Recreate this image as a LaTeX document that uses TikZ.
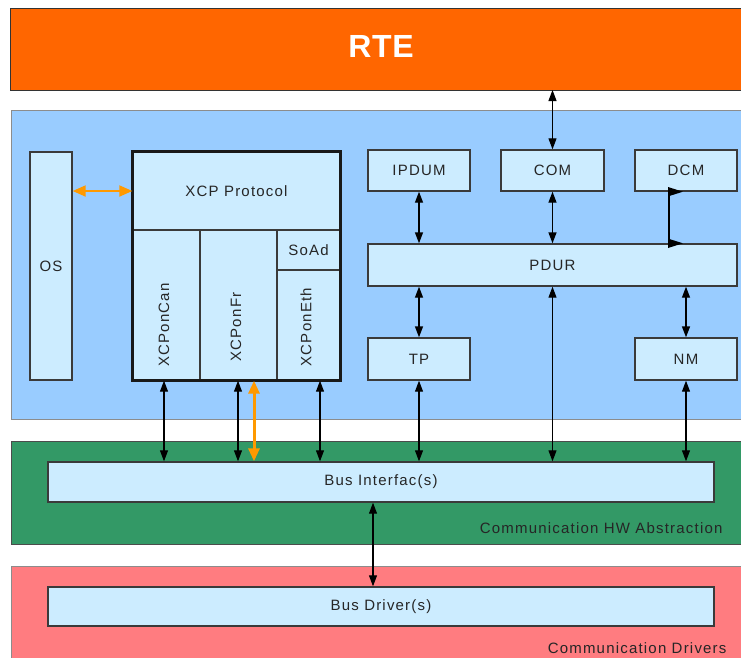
\documentclass[tikz,border=0pt]{standalone}
\usepackage{fontspec}
\setmainfont{Liberation Sans}[LetterSpace=8]
\newfontfamily\rtefont{Liberation Sans}[LetterSpace=2]
\usetikzlibrary{arrows.meta}
\definecolor{rteor}{HTML}{FF6600}
\definecolor{bluebg}{HTML}{99CCFF}
\definecolor{boxfill}{HTML}{CCECFF}
\definecolor{greenbg}{HTML}{339966}
\definecolor{redbg}{HTML}{FF7C80}
\definecolor{orarr}{HTML}{FF9900}
\definecolor{edge}{HTML}{3A3A3A}
\tikzset{
  every node/.style={font=\fontsize{15}{18}\selectfont, text=black!85},
  box/.style={draw=edge, line width=1.4pt, fill=boxfill, rectangle, inner sep=0pt},
  region/.style={draw=black!45, line width=1pt},
  arr/.style={line width=1.1pt, {Triangle[length=11pt,width=8pt]}-{Triangle[length=11pt,width=8pt]}},
  oarr/.style={draw=orarr, line width=2pt, {Triangle[length=13pt,width=11pt]}-{Triangle[length=13pt,width=11pt]}},
  vtext/.style={rotate=90, inner sep=0pt}
}
\begin{document}
\begin{tikzpicture}[x=1pt,y=-1pt]
\useasboundingbox (0,0) rectangle (741,657);
\clip (0,0) rectangle (741,657);
\fill[white] (0,0) rectangle (741,657);
% regions
\draw[region, draw=black!80, fill=rteor] (10,8) rectangle (760,90);
\coordinate (rtebot) at (383,90);
\node[font=\rtefont\fontsize{32}{36}\bfseries\selectfont, text=white] (rte) at (381,46) {RTE};
\draw[region, fill=bluebg] (11,110) rectangle (760,419);
\draw[region, draw=black!70, fill=greenbg] (11,441) rectangle (760,544);
\draw[region, fill=redbg] (11,566) rectangle (760,690);
\node[anchor=base east] (lblhw) at (726,533) {Communication HW Abstraction};
\node[anchor=base east] (lbldrv) at (730,653) {Communication Drivers};
% OS
\node[box, minimum width=42, minimum height=228] (os) at (51,266) {OS};
% XCP block
\node[box, minimum width=207, minimum height=78] (xcpp) at (236.5,191) {XCP Protocol};
\node[box, minimum width=67, minimum height=150] (xcan) at (166.5,305) {};
\node[box, minimum width=77, minimum height=150] (xfr) at (238.5,305) {};
\node[box, minimum width=63, minimum height=40] (soad) at (308.5,250) {SoAd};
\node[box, minimum width=63, minimum height=110] (xeth) at (308.5,325) {};
\node[vtext] (tcan) at (164,325) {XCPonCan};
\node[vtext] (tfr) at (236,327) {XCPonFr};
\node[vtext] (teth) at (306,327) {XCPonEth};
\draw[draw=black!90, line width=2.6pt] (xcpp.north west) rectangle (xeth.south east);
% right modules
\node[box, minimum width=102, minimum height=41] (ipdum) at (419,170.5) {IPDUM};
\node[box, minimum width=103, minimum height=41] (com) at (552.5,170.5) {COM};
\node[box, minimum width=102, minimum height=41] (dcm) at (686,170.5) {DCM};
\node[box, minimum width=369, minimum height=42] (pdur) at (552.5,265) {PDUR};
\node[box, minimum width=102, minimum height=42] (tp) at (419,359) {TP};
\node[box, minimum width=102, minimum height=42] (nm) at (686,359) {NM};
% bus boxes
\node[box, minimum width=666, minimum height=40] (busif) at (381,482) {Bus Interfac(s)};
\node[box, minimum width=666, minimum height=39] (busdrv) at (381,606.5) {Bus Driver(s)};
% connector anchors
\coordinate (pcan) at ([xshift=-2.5pt]xcan.south);
\coordinate (pfr) at ([xshift=-0.5pt]xfr.south);
\coordinate (por) at ([xshift=15.5pt]xfr.south);
\coordinate (peth) at ([xshift=11.5pt]xeth.south);
\coordinate (pbus) at ([xshift=-8pt]busif.south);
\coordinate (dcmtop) at ([xshift=-17pt]dcm.south);
% connectors
\draw[arr] (com.north) -- (rtebot -| com.north);
\draw[oarr] (os.east |- xcpp.west) -- (xcpp.west);
\draw[arr, line width=1.4pt] (ipdum.south) -- (pdur.north -| ipdum.south);
\draw[arr, line width=1.4pt] (com.south) -- (pdur.north -| com.south);
\draw[line width=1.4pt, {Triangle[length=15pt,width=9pt]}-{Triangle[length=15pt,width=9pt]}]
  ([xshift=14pt]dcmtop) -- (dcmtop) -- (dcmtop |- pdur.north) -- ([xshift=14pt]dcmtop |- pdur.north);
\draw[arr, line width=1.4pt] (tp.north) -- (pdur.south -| tp.north);
\draw[arr, line width=1.4pt] (nm.north) -- (pdur.south -| nm.north);
\draw[arr] (pdur.south -| com.south) -- (busif.north -| com.south);
\draw[arr] (tp.south) -- (busif.north -| tp.south);
\draw[arr] (nm.south) -- (busif.north -| nm.south);
\draw[arr] (pcan) -- (busif.north -| pcan);
\draw[arr] (pfr) -- (busif.north -| pfr);
\draw[oarr, line width=3pt] (por) -- (busif.north -| por);
\draw[arr] (peth) -- (busif.north -| peth);
\draw[arr] (pbus) -- (busdrv.north -| pbus);
\end{tikzpicture}
\end{document}
